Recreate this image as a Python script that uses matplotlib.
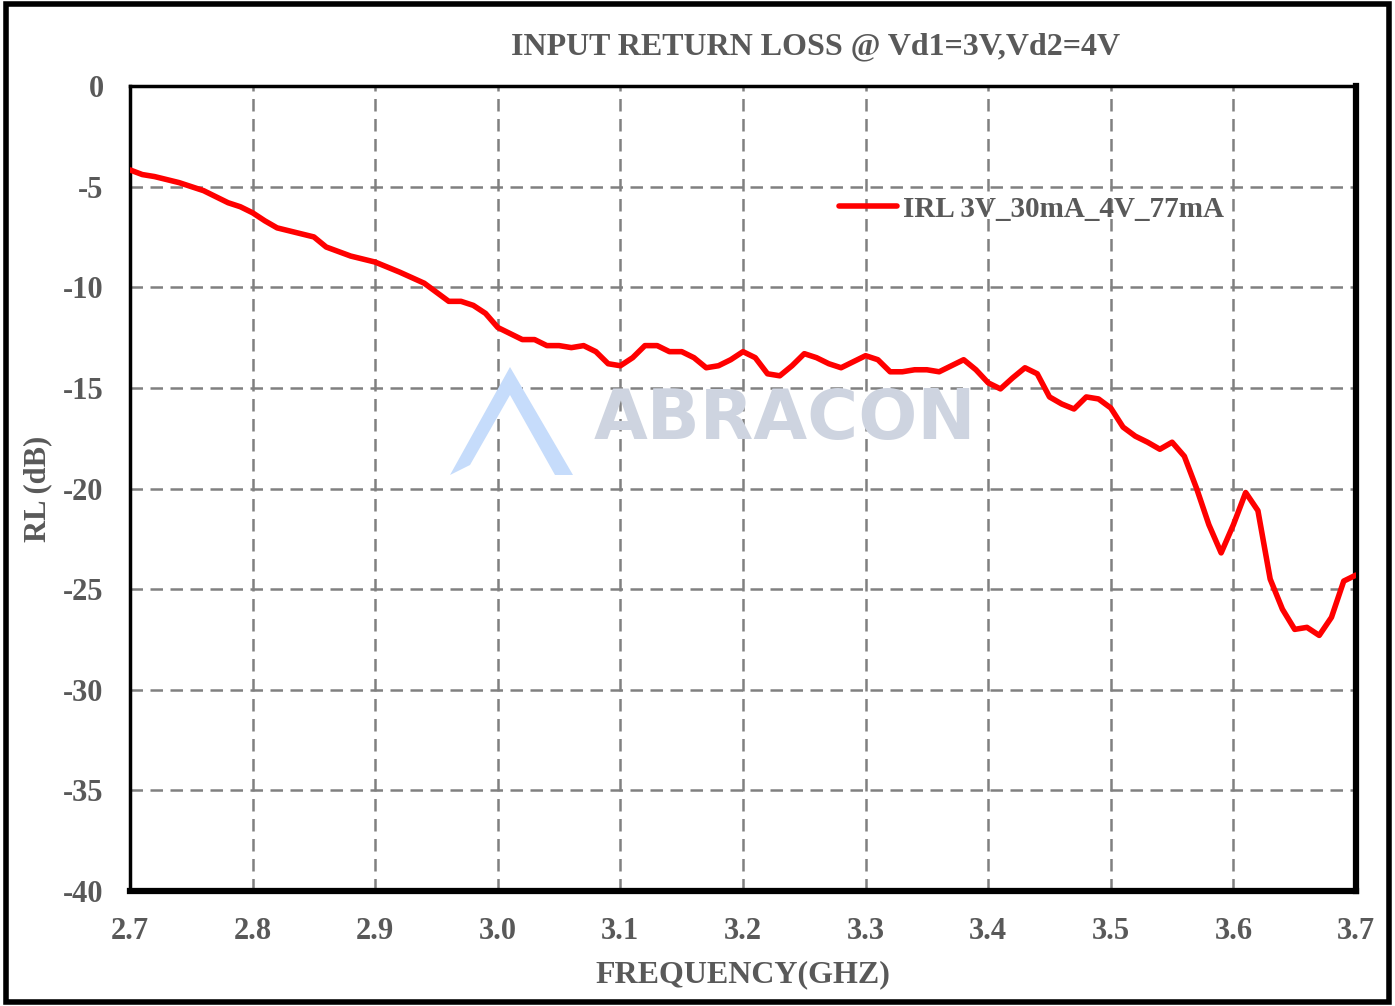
import matplotlib.pyplot as plt
from matplotlib.patches import Rectangle, Polygon

# data
freq = [2.70, 2.71, 2.72, 2.74, 2.76, 2.78, 2.79, 2.80, 2.81, 2.82, 2.84, 2.85, 2.86, 2.88,
        2.90, 2.92, 2.94, 2.96, 2.97, 2.98, 2.99, 3.00, 3.02, 3.03, 3.04, 3.05, 3.06, 3.07,
        3.08, 3.09, 3.10, 3.11, 3.12, 3.13, 3.14, 3.15, 3.16, 3.17, 3.18, 3.19, 3.20, 3.21,
        3.22, 3.23, 3.24, 3.25, 3.26, 3.27, 3.28, 3.29, 3.30, 3.31, 3.32, 3.33, 3.34, 3.35,
        3.36, 3.37, 3.38, 3.39, 3.40, 3.41, 3.42, 3.43, 3.44, 3.45, 3.46, 3.47, 3.48, 3.49,
        3.50, 3.51, 3.52, 3.53, 3.54, 3.55, 3.56, 3.57, 3.58, 3.59, 3.60, 3.61, 3.62, 3.63,
        3.64, 3.65, 3.66, 3.67, 3.68, 3.69, 3.70]
irl = [-4.17, -4.4, -4.5, -4.8, -5.2, -5.8, -6.0, -6.3, -6.7, -7.05, -7.35, -7.5, -8.0, -8.45,
       -8.75, -9.25, -9.8, -10.7, -10.7, -10.9, -11.3, -12.0, -12.6, -12.6, -12.9, -12.9, -13.0, -12.9,
       -13.2, -13.8, -13.9, -13.5, -12.9, -12.9, -13.2, -13.2, -13.5, -14.0, -13.9, -13.6, -13.2, -13.5,
       -14.3, -14.4, -13.9, -13.3, -13.5, -13.8, -14.0, -13.7, -13.4, -13.6, -14.2, -14.2, -14.1, -14.1,
       -14.2, -13.9, -13.6, -14.1, -14.75, -15.05, -14.5, -14.0, -14.3, -15.45, -15.8, -16.05, -15.45, -15.55,
       -16.0, -16.95, -17.4, -17.7, -18.05, -17.7, -18.4, -20.0, -21.8, -23.2, -21.8, -20.2, -21.1, -24.5,
       -26.0, -27.0, -26.9, -27.3, -26.4, -24.6, -24.3]
xticks = [2.7, 2.8, 2.9, 3.0, 3.1, 3.2, 3.3, 3.4, 3.5, 3.6, 3.7]
yticks = [0, -5, -10, -15, -20, -25, -30, -35, -40]

txt = '#595959'
plt.rcParams['font.family'] = ['Liberation Serif', 'DejaVu Serif']
plt.rcParams['font.weight'] = 'bold'
plt.rcParams['axes.labelweight'] = 'bold'
plt.rcParams['axes.unicode_minus'] = False

W, H = 1395, 1006
fig = plt.figure(figsize=(W / 100, H / 100), dpi=100)
ax = fig.add_axes([130 / W, 1 - 891 / H, (1356 - 130) / W, (891 - 86) / H])

# watermark
fig.text(785 / W, 1 - 420 / H, 'ABRACON', ha='center', va='center',
         fontsize=50, color='#CED4E0', family='DejaVu Sans', fontweight='bold', zorder=0)
logo = Polygon([[450 / W, 1 - 475 / H], [510 / W, 1 - 367 / H], [573 / W, 1 - 475 / H],
                [555 / W, 1 - 475 / H], [510 / W, 1 - 395 / H], [470 / W, 1 - 465 / H]],
               closed=True, transform=fig.transFigure, facecolor='#C6DCFB', edgecolor='none', zorder=0)
fig.patches.append(logo)

ax.set_facecolor('none')
ax.plot(freq, irl, color='#FF0000', lw=4, label='IRL 3V_30mA_4V_77mA', zorder=3,
        solid_joinstyle='round', solid_capstyle='round')

ax.set_xlim(2.7, 3.7)
ax.set_ylim(-40, 0)
ax.set_xticks(xticks)
ax.set_yticks(yticks)
ax.set_xticklabels([f'{v:.1f}' for v in xticks], fontweight='bold')
ax.set_yticklabels([str(v) for v in yticks], fontweight='bold')
ax.grid(True, color='#808080', linestyle=(0, (5, 3)), lw=1.8)
ax.tick_params(length=0, pad=19, labelsize=22, labelcolor=txt)

for s in ['left', 'top']:
    ax.spines[s].set_linewidth(2.5)
for s in ['bottom', 'right']:
    ax.spines[s].set_linewidth(4.5)

ax.set_xlabel('FREQUENCY(GHZ)', fontsize=23, color=txt, labelpad=10, fontweight='bold')
ax.set_ylabel('RL (dB)', fontsize=22, color=txt, labelpad=8, fontweight='bold')
fig.text(816 / W, 1 - 47 / H, 'INPUT RETURN LOSS @ Vd1=3V,Vd2=4V', ha='center', va='center',
         fontsize=23, color=txt, fontweight='bold')

ax.legend(loc='center left', bbox_to_anchor=(0.578, 0.847), frameon=False, borderpad=0,
          borderaxespad=0, handlelength=2.0, handletextpad=0.2,
          prop={'size': 21, 'weight': 'bold'}, labelcolor=txt)

# outer border
fig.patches.append(Rectangle((6 / W, 4 / H), (W - 12) / W, (H - 8) / H, transform=fig.transFigure,
                             fill=False, edgecolor='black', lw=4))

fig.savefig('out.png', dpi=100)
